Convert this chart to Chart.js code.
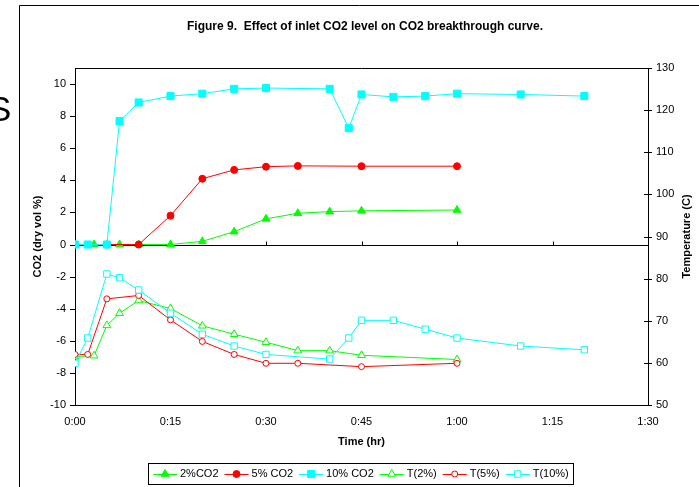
<!DOCTYPE html>
<html lang="en">
<head>
    <meta charset="UTF-8">
    <title>Figure 9. Effect of inlet CO2 level on CO2 breakthrough curve</title>
    <script src="https://cdn.jsdelivr.net/npm/chart.js@4.4.0/dist/chart.umd.min.js"></script>
    <style>
        html, body { margin: 0; padding: 0; background: #fff; overflow: hidden; }
        #wrap { position: relative; width: 699px; height: 487px; }
        #chart { position: absolute; left: 0; top: 0; }
        #cut { position: absolute; left: -12px; top: 91px; font: 35px "Liberation Sans", Arial, sans-serif; line-height: 35px; color: #000; }
    </style>
</head>
<body>
    <div id="wrap">
        <canvas id="chart" width="699" height="487"></canvas>
        <div id="cut">S</div>
    </div>

    <script>
        // time in minutes, CO2 in dry vol %
        const co2Time2 = [0, 3, 7, 10, 15, 20, 25, 30, 35, 40, 45, 60];
        const co2Val2 = [0, 0, 0, 0, 0, 0.2, 0.8, 1.6, 1.95, 2.05, 2.1, 2.15];
        const co2Time5 = [0, 5, 10, 15, 20, 25, 30, 35, 45, 60];
        const co2Val5 = [0, 0, 0, 1.8, 4.1, 4.65, 4.85, 4.9, 4.88, 4.88];
        const co2Time10 = [0, 2, 5, 7, 10, 15, 20, 25, 30, 40, 43, 45, 50, 55, 60, 70, 80];
        const co2Val10 = [0, 0, 0, 7.7, 8.85, 9.25, 9.4, 9.7, 9.75, 9.7, 7.25, 9.35, 9.2, 9.25, 9.4, 9.35, 9.25];

        // temperatures (C)
        const tempTime2 = [0, 3, 5, 7, 10, 15, 20, 25, 30, 35, 40, 45, 60];
        const tempVal2 = [61.5, 61.7, 68.9, 71.8, 74.8, 72.9, 68.8, 66.8, 64.9, 62.9, 62.9, 61.8, 60.8];
        const tempTime5 = [0, 2, 5, 10, 15, 20, 25, 30, 35, 45, 60];
        const tempVal5 = [62, 62, 75.2, 76, 70.2, 65.1, 62, 59.9, 59.9, 59.1, 59.9];
        const tempTime10 = [0, 2, 5, 7, 10, 15, 20, 25, 30, 40, 43, 45, 50, 55, 60, 70, 80];
        const tempVal10 = [59.9, 65.9, 81.1, 80.2, 77.3, 71.8, 66.8, 64, 62, 60.9, 65.9, 70.1, 70.1, 68, 65.9, 64, 63.1];

        const seriesNames = ['2%CO2', '5% CO2', '10% CO2', 'T(2%)', 'T(5%)', 'T(10%)'];
        const xTickLabels = ['0:00', '0:15', '0:30', '0:45', '1:00', '1:15', '1:30'];

        const FONT = '"Liberation Sans", Arial, sans-serif';
        const GREEN = '#00ff00', RED = '#ff0000', CYAN = '#00ffff';

        function pts(t, v) {
            return t.map((x, i) => ({ x: x, y: v[i] }));
        }

        function series(i, t, v, color, style, radius, filled, axis) {
            return {
                label: seriesNames[i],
                data: pts(t, v),
                yAxisID: axis,
                borderColor: color,
                borderWidth: 1,
                pointStyle: style,
                pointRadius: radius,
                pointBorderWidth: 1,
                pointBorderColor: color,
                pointBackgroundColor: filled ? color : '#fff',
                backgroundColor: filled ? color : '#fff',
                tension: 0,
                order: 6 - i
            };
        }

        const datasets = [
            series(0, co2Time2, co2Val2, GREEN, 'triangle', 4.5, true, 'y'),
            series(1, co2Time5, co2Val5, RED, 'circle', 3.5, true, 'y'),
            series(2, co2Time10, co2Val10, CYAN, 'rect', 5, true, 'y'),
            series(3, tempTime2, tempVal2, GREEN, 'triangle', 4.5, false, 'y2'),
            series(4, tempTime5, tempVal5, RED, 'circle', 3, false, 'y2'),
            series(5, tempTime10, tempVal10, CYAN, 'rect', 4.5, false, 'y2')
        ];

        // frame, zero line, tick marks, right title and boxed legend
        const excelBits = {
            id: 'excelBits',
            beforeDraw(chart) {
                const ctx = chart.ctx;
                ctx.save();
                ctx.strokeStyle = '#000';
                ctx.lineWidth = 1;
                ctx.beginPath();
                ctx.moveTo(19.5, 487);
                ctx.lineTo(19.5, 5.5);
                ctx.lineTo(699, 5.5);
                ctx.stroke();
                ctx.restore();
            },
            beforeDatasetsDraw(chart) {
                const ctx = chart.ctx;
                const a = chart.chartArea;
                const x = chart.scales.x, y = chart.scales.y, y2 = chart.scales.y2;
                ctx.save();
                ctx.strokeStyle = '#000';
                ctx.lineWidth = 1;
                ctx.beginPath();
                ctx.moveTo(a.left, Math.round(a.top) + 0.5);
                ctx.lineTo(a.right, Math.round(a.top) + 0.5);
                const zy = Math.round(y.getPixelForValue(0)) + 0.5;
                ctx.moveTo(a.left, zy);
                ctx.lineTo(a.right, zy);
                x.ticks.forEach(t => {
                    const px = Math.round(x.getPixelForValue(t.value)) + 0.5;
                    ctx.moveTo(px, zy);
                    ctx.lineTo(px, zy - 4);
                });
                y.ticks.forEach(t => {
                    const py = Math.round(y.getPixelForValue(t.value)) + 0.5;
                    ctx.moveTo(a.left - 5, py);
                    ctx.lineTo(a.left, py);
                });
                y2.ticks.forEach(t => {
                    const py = Math.round(y2.getPixelForValue(t.value)) + 0.5;
                    ctx.moveTo(a.right - 4, py);
                    ctx.lineTo(a.right + 4, py);
                });
                ctx.stroke();
                ctx.restore();
            },
            afterDraw(chart) {
                const ctx = chart.ctx;
                const a = chart.chartArea;
                ctx.save();
                ctx.fillStyle = '#000';
                ctx.font = 'bold 11px ' + FONT;
                ctx.textAlign = 'center';
                ctx.textBaseline = 'middle';
                ctx.translate(687, (a.top + a.bottom) / 2);
                ctx.rotate(-Math.PI / 2);
                ctx.fillText('Temperature (C)', 0, 0);
                ctx.restore();

                // legend
                ctx.save();
                ctx.strokeStyle = '#000';
                ctx.lineWidth = 1;
                ctx.strokeRect(148.5, 463.5, 425, 21);
                ctx.font = '11px ' + FONT;
                ctx.textBaseline = 'middle';
                const ly = 474;
                let lx = 153;
                chart.data.datasets.forEach(ds => {
                    ctx.strokeStyle = ds.borderColor;
                    ctx.beginPath();
                    ctx.moveTo(lx, ly + 0.5);
                    ctx.lineTo(lx + 24, ly + 0.5);
                    ctx.stroke();
                    ctx.fillStyle = ds.pointBackgroundColor;
                    ctx.strokeStyle = ds.pointBorderColor;
                    Chart.helpers.drawPoint(ctx, {
                        pointStyle: ds.pointStyle,
                        radius: ds.pointRadius,
                        rotation: 0,
                        borderWidth: 1
                    }, lx + 12, ly);
                    ctx.fillStyle = '#000';
                    ctx.fillText(ds.label, lx + 27, ly);
                    lx += 27 + ctx.measureText(ds.label).width + 6;
                });
                ctx.restore();
            }
        };

        new Chart(document.getElementById('chart'), {
            type: 'line',
            data: { datasets: datasets },
            plugins: [excelBits],
            options: {
                responsive: false,
                animation: false,
                events: [],
                layout: { padding: { left: 31, right: 0, top: 0, bottom: 38.4 } },
                plugins: {
                    legend: { display: false },
                    tooltip: { enabled: false },
                    title: {
                        display: true,
                        text: 'Figure 9.  Effect of inlet CO2 level on CO2 breakthrough curve.',
                        color: '#000',
                        font: { family: FONT, size: 12, weight: 'bold' },
                        padding: { top: 19.8, bottom: 33.8 }
                    }
                },
                scales: {
                    x: {
                        type: 'linear',
                        min: 0,
                        max: 90,
                        afterFit(s) { s.height = 43.6; },
                        grid: { drawOnChartArea: false, drawTicks: false },
                        border: { display: true, color: '#000', width: 1 },
                        ticks: {
                            stepSize: 15,
                            padding: 10,
                            color: '#000',
                            font: { family: FONT, size: 11 },
                            maxRotation: 0,
                            callback: v => xTickLabels[Math.round(v / 15)]
                        },
                        title: {
                            display: true,
                            text: 'Time (hr)',
                            color: '#000',
                            padding: 0,
                            font: { family: FONT, size: 11, weight: 'bold' }
                        }
                    },
                    y: {
                        position: 'left',
                        min: -10,
                        max: 11,
                        afterFit(s) { s.width = 44; },
                        afterBuildTicks(s) { s.ticks = s.ticks.filter(t => t.value <= 10); },
                        grid: { drawOnChartArea: false, drawTicks: false },
                        border: { display: true, color: '#000', width: 1 },
                        ticks: {
                            stepSize: 2,
                            padding: 9,
                            color: '#000',
                            font: { family: FONT, size: 11 }
                        },
                        title: {
                            display: true,
                            text: 'CO2 (dry vol %)',
                            color: '#000',
                            padding: 0,
                            font: { family: FONT, size: 11, weight: 'bold' }
                        }
                    },
                    y2: {
                        position: 'right',
                        min: 50,
                        max: 130,
                        afterFit(s) { s.width = 51; },
                        grid: { drawOnChartArea: false, drawTicks: false },
                        border: { display: true, color: '#000', width: 1 },
                        ticks: {
                            stepSize: 10,
                            padding: 8,
                            color: '#000',
                            font: { family: FONT, size: 11 }
                        }
                    }
                }
            }
        });
    </script>
</body>
</html>
